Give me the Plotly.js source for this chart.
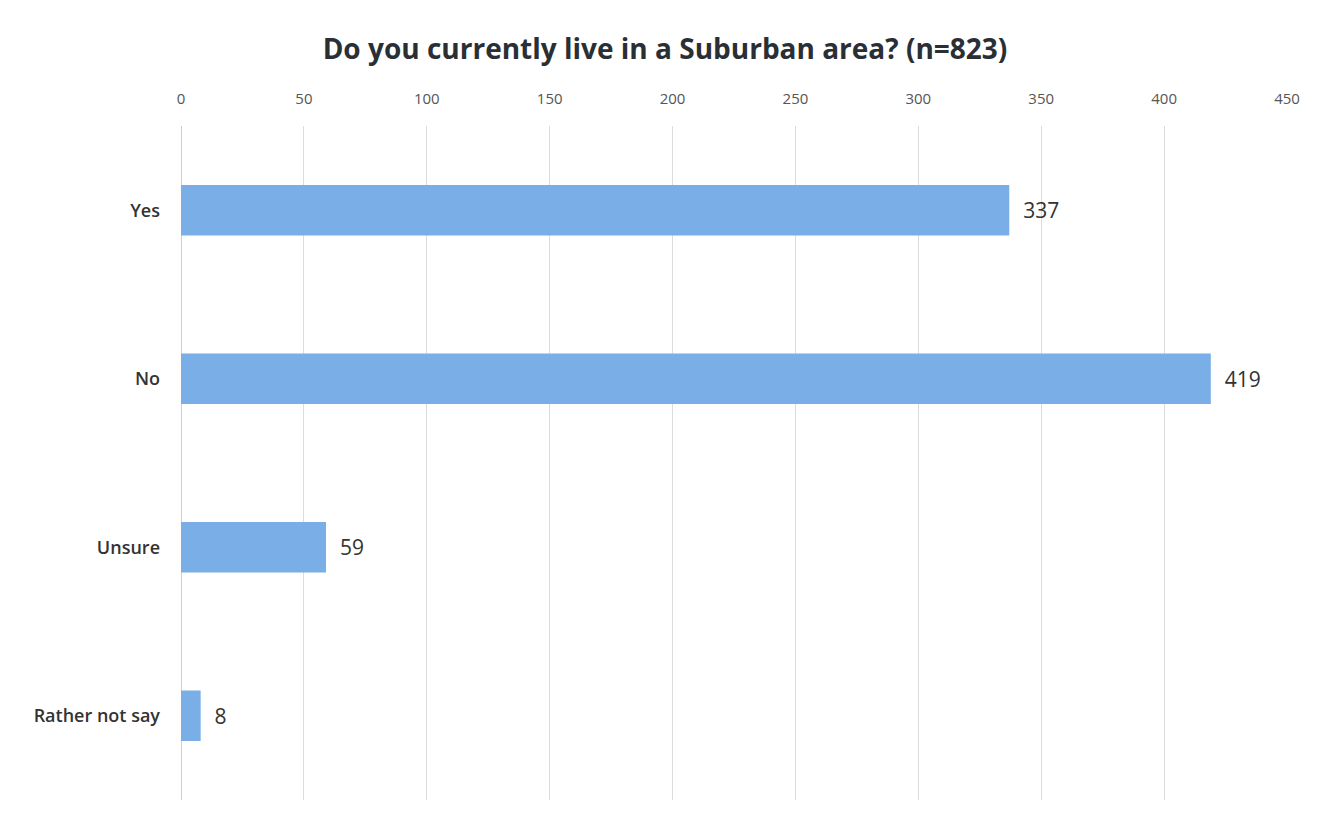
<!DOCTYPE html>
<html>
<head>
<meta charset="utf-8">
<script src="https://cdn.plot.ly/plotly-3.0.1.min.js"></script>
<style>html,body{margin:0;padding:0;background:#fff;}#chart{width:1338px;height:821px;}</style>
</head>
<body>
<div id="chart"></div>
<script>
const categories = ["Yes", "No", "Unsure", "Rather not say"];
const counts = [337, 419, 59, 8];
const tickValues = [0, 50, 100, 150, 200, 250, 300, 350, 400, 450];
const chartTitle = "Do you currently live in a Suburban area? (n=823)";

const trace = {
  type: "bar",
  orientation: "h",
  y: categories,
  x: counts,
  text: counts.map(v => "\u00a0\u00a0" + v),
  textposition: "outside",
  cliponaxis: false,
  textfont: {family: "Open Sans, sans-serif", size: 21, color: "#333"},
  marker: {color: "#7aaee6", line: {width: 0}},
  hoverinfo: "none"
};

const layout = {
  width: 1338,
  height: 821,
  paper_bgcolor: "#fff",
  plot_bgcolor: "#fff",
  margin: {l: 181, r: 51, t: 126, b: 21},
  bargap: 0.7,
  showlegend: false,
  title: {
    text: chartTitle,
    x: 0.497, xanchor: "center",
    y: 0.94, yanchor: "middle",
    font: {family: "Open Sans, sans-serif", size: 28, color: "#2a2f36", weight: "bold"}
  },
  xaxis: {
    side: "top",
    range: [0, 450],
    tickvals: tickValues,
    ticktext: tickValues.map(String),
    showgrid: true,
    gridcolor: "#dcdcdc",
    gridwidth: 1,
    zeroline: true,
    zerolinecolor: "#cfcfcf",
    zerolinewidth: 1,
    showline: false,
    ticks: "",
    ticklabelstandoff: 18,
    tickfont: {family: "Open Sans, sans-serif", size: 15, color: "#555"}
  },
  yaxis: {
    categoryorder: "array",
    categoryarray: categories,
    autorange: "reversed",
    showgrid: false,
    zeroline: false,
    showline: false,
    ticks: "",
    ticklabelstandoff: 20,
    tickfont: {family: "Open Sans, sans-serif", size: 18, color: "#333", weight: 600}
  }
};

Plotly.newPlot("chart", [trace], layout, {displayModeBar: false, staticPlot: true});
</script>
</body>
</html>
